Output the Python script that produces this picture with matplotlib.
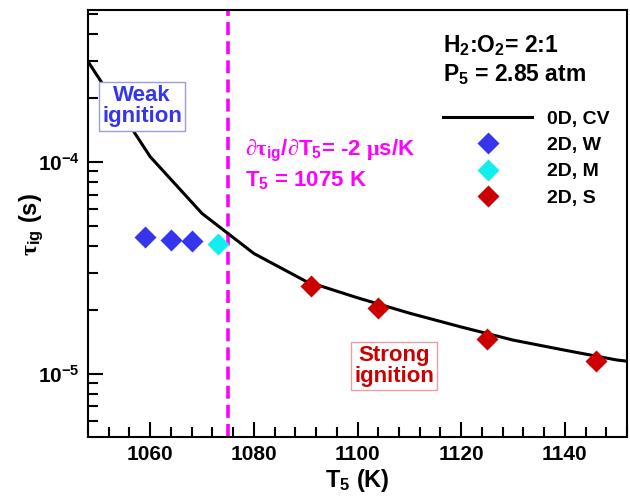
import numpy as np
import matplotlib
matplotlib.use("Agg")
import matplotlib.pyplot as plt
from matplotlib.ticker import FixedLocator, FixedFormatter, NullFormatter

plt.rcParams['font.family'] = ['Liberation Sans', 'DejaVu Sans']
plt.rcParams['font.weight'] = 'bold'
plt.rcParams['axes.labelweight'] = 'bold'
plt.rcParams['mathtext.fontset'] = 'custom'
plt.rcParams['mathtext.rm'] = 'Liberation Sans:bold'
plt.rcParams['mathtext.it'] = 'Liberation Sans:bold'
plt.rcParams['mathtext.bf'] = 'Liberation Sans:bold'
plt.rcParams['mathtext.sf'] = 'Liberation Serif'

# 0D constant-volume ignition delay
T_0d = [1048, 1060, 1070, 1080, 1090, 1100, 1110, 1120, 1130, 1140, 1150, 1152]
tau_0d = [2.97e-4, 1.056e-4, 5.70e-5, 3.69e-5, 2.73e-5, 2.28e-5, 1.93e-5,
          1.66e-5, 1.44e-5, 1.29e-5, 1.16e-5, 1.145e-5]

# 2D simulations: weak, mixed and strong ignition
T_weak = [1059, 1064, 1068]
tau_weak = [4.39e-5, 4.26e-5, 4.22e-5]
T_mixed = [1073]
tau_mixed = [4.08e-5]
T_strong = [1091, 1104, 1125, 1146]
tau_strong = [2.59e-5, 2.03e-5, 1.454e-5, 1.144e-5]

T_crit = 1075

x_ticks = [1060, 1080, 1100, 1120, 1140]
y_ticks = [1e-5, 1e-4]
y_tick_labels = [r'10$^{-5}$', r'10$^{-4}$']

blue = '#3535ee'
cyan = '#11eeee'
red = '#cc0000'
magenta = '#ff00ff'

fig = plt.figure(figsize=(6.3, 4.97), dpi=100)
ax = fig.add_axes([88 / 630, 1 - 436.5 / 497, 539 / 630, 426.5 / 497])

ax.plot(T_0d, tau_0d, color='black', lw=2.2, label='0D, CV', zorder=3)
ax.plot(T_weak, tau_weak, 'D', color=blue, ms=11.5, mec='none', label='2D, W', zorder=4)
ax.plot(T_mixed, tau_mixed, 'D', color=cyan, ms=11.5, mec='none', label='2D, M', zorder=4)
ax.plot(T_strong, tau_strong, 'D', color=red, ms=11.5, mec='none', label='2D, S', zorder=4)
ax.axvline(T_crit, color=magenta, lw=2.6, dashes=(3.6, 1.7), zorder=2)

ax.set_yscale('log')
ax.set_xlim(1048, 1152)
ax.set_ylim(5.05e-6, 5.2e-4)

ax.xaxis.set_major_locator(FixedLocator(x_ticks))
ax.xaxis.set_minor_locator(FixedLocator(np.arange(1048, 1153, 4)))
ax.yaxis.set_major_locator(FixedLocator(y_ticks))
ax.yaxis.set_major_formatter(FixedFormatter(y_tick_labels))
ax.yaxis.set_minor_locator(FixedLocator([k * 10.0 ** e for e in (-6, -5, -4)
                                         for k in range(2, 10)]))
ax.yaxis.set_minor_formatter(NullFormatter())

ax.tick_params(which='both', direction='in', top=False, right=False, width=1.5)
ax.tick_params(which='major', length=10.5, labelsize=15, pad=6)
ax.tick_params(which='minor', length=7.5)
for s in ax.spines.values():
    s.set_linewidth(1.5)

ax.set_xlabel(r'T$_5$ (K)', fontsize=17, labelpad=2)
ax.set_ylabel(r'$\mathsf{\tau}_{ig}$ (s)', fontsize=17)
ax.yaxis.set_label_coords(-0.078, 0.497)

# annotations
ax.text(0.6586, 0.9022, r'H$_2$:O$_2$= 2:1', transform=ax.transAxes,
        fontsize=16.5, va='baseline')
ax.text(0.6586, 0.8335, r'P$_5$ = 2.85 atm', transform=ax.transAxes,
        fontsize=16.5, va='baseline')
ax.text(0.2913, 0.658, r'$\mathsf{\partial\tau}_{ig}$/$\mathsf{\partial}$T$_5$= -2 $\mathsf{\mu}$s/K',
        transform=ax.transAxes, fontsize=16, color=magenta, va='baseline')
ax.text(0.2913, 0.586, r'T$_5$ = %d K' % T_crit, transform=ax.transAxes,
        fontsize=16, color=magenta, va='baseline')

ax.text(0.1002, 0.7742, 'Weak\nignition', transform=ax.transAxes, fontsize=16,
        color=blue, ha='center', va='center', multialignment='center',
        linespacing=1.0,
        bbox=dict(boxstyle='square,pad=0.15', fc='white', ec='#9c9ce0', lw=1))
ax.text(0.5677, 0.1653, 'Strong\nignition', transform=ax.transAxes, fontsize=16,
        color=red, ha='center', va='center', multialignment='center',
        linespacing=1.0,
        bbox=dict(boxstyle='square,pad=0.15', fc='white', ec='#e8a0a0', lw=1))

ax.legend(loc='upper left', bbox_to_anchor=(443 / 630, 1 - 110 / 497),
          bbox_transform=fig.transFigure, frameon=False, fontsize=14,
          handlelength=4.6, handletextpad=0.75, labelspacing=0.45,
          borderpad=0, borderaxespad=0, numpoints=1)

fig.savefig('out.png', dpi=100)
